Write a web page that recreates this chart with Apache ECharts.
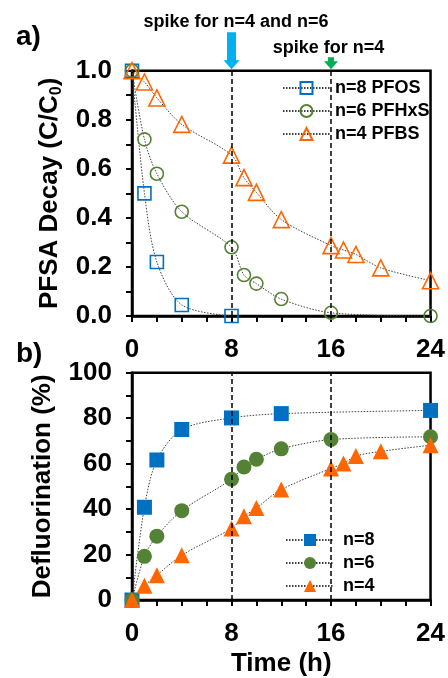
<!DOCTYPE html>
<html><head><meta charset="utf-8">
<script src="https://cdn.jsdelivr.net/npm/echarts@6/dist/echarts.min.js"></script>
<style>html,body{margin:0;padding:0;background:#fff}#c{width:448px;height:678px}</style>
</head><body><div id="c"></div><script>
// ---- data (panel a: PFSA decay C/C0) ----
const timeA8 = [0, 1, 2, 4, 8];
const decay8 = [1.0, 0.50, 0.22, 0.045, 0];
const timeA6 = [0, 1, 2, 4, 8, 9, 10, 12, 16, 24];
const decay6 = [1.0, 0.72, 0.58, 0.425, 0.28, 0.167, 0.132, 0.069, 0.013, 0];
const timeA4 = [0, 1, 2, 4, 8, 9, 10, 12, 16, 17, 18, 20, 24];
const decay4 = [1.0, 0.954, 0.889, 0.781, 0.656, 0.564, 0.504, 0.393, 0.287, 0.269, 0.251, 0.196, 0.144];
// ---- data (panel b: defluorination %) ----
const timeB8 = [0, 1, 2, 4, 8, 12, 24];
const defl8 = [0, 40.8, 61.6, 75.0, 80.1, 82.0, 83.4];
const timeB6 = [0, 1, 2, 4, 8, 9, 10, 12, 16, 24];
const defl6 = [0, 19.2, 28.1, 39.3, 53.1, 58.5, 61.9, 66.5, 70.6, 71.8];
const timeB4 = [0, 1, 2, 4, 8, 9, 10, 12, 16, 17, 18, 20, 24];
const defl4 = [0, 6.3, 10.9, 19.7, 31.5, 36.8, 40.5, 48.6, 57.9, 60.1, 63.3, 65.4, 68.1];
const namesA = ['n=8 PFOS', 'n=6 PFHxS', 'n=4 PFBS'];
const namesB = ['n=8', 'n=6', 'n=4'];
const spikeTimes = [8, 16];
const spikeLabels = ['spike for n=4 and n=6', 'spike for n=4'];
const xLabelTimes = [0, 8, 16, 24];

const FONT = "'Liberation Sans', Arial, sans-serif";
const BLUE = '#0070C0', GREEN = '#548235', ORANGE = '#FF6600';
const zip = (xs, ys) => xs.map((x, i) => [x, ys[i]]);

const chart = echarts.init(document.getElementById('c'), null, {renderer: 'canvas'});

function xAxis(grid, name) {
  return {
    type: 'value', gridIndex: grid, min: 0, max: 24, interval: 2,
    name: name || '', nameLocation: 'middle', nameGap: 51,
    nameTextStyle: {fontFamily: FONT, fontWeight: 'bold', fontSize: 26, color: '#000'},
    axisLine: {onZero: false, lineStyle: {color: '#000', width: 2.5}},
    axisTick: {inside: false, length: 6, lineStyle: {color: '#000', width: 2}},
    axisLabel: {margin: 21, fontFamily: FONT, fontWeight: 'bold', fontSize: 26, color: '#000',
      formatter: v => xLabelTimes.includes(v) ? String(v) : ''},
    splitLine: {show: false}
  };
}
function yAxis(grid, max, interval, fmt, name, rich) {
  return {
    type: 'value', gridIndex: grid, min: 0, max: max, interval: interval,
    name: name, nameLocation: 'middle', nameGap: 67, nameRotate: 90,
    nameTextStyle: {fontFamily: FONT, fontWeight: 'bold', fontSize: 26, color: '#000', lineHeight: 30, rich: rich},
    axisLine: {onZero: false, lineStyle: {color: '#000', width: 2.5}},
    axisTick: {inside: false, length: 6, lineStyle: {color: '#000', width: 2}},
    minorTick: {show: true, splitNumber: 2, length: 6, lineStyle: {color: '#000', width: 2}},
    axisLabel: {margin: 20, fontFamily: FONT, fontWeight: 'bold', fontSize: 26, color: '#000', formatter: fmt},
    splitLine: {show: false}, minorSplitLine: {show: false}
  };
}
const lineSt = {color: '#404040', width: 1, type: [1.5, 1.5]};
const markLines = {
  silent: true, symbol: ['none', 'none'], label: {show: false},
  lineStyle: {color: '#000', width: 1.5, type: [5, 3]},
  data: spikeTimes.map(t => ({xAxis: t}))
};
function ser(name, grid, data, symbol, size, color, open, ml) {
  const s = {
    name: name, type: 'line', xAxisIndex: grid, yAxisIndex: grid, data: data,
    smooth: 0.3, symbol: symbol, symbolSize: size, showAllSymbol: true,
    lineStyle: lineSt,
    itemStyle: open ? {color: 'rgba(255,255,255,0)', borderColor: color, borderWidth: 1.6}
                    : {color: color, borderColor: color, borderWidth: 0},
    emphasis: {disabled: true}, animation: false
  };
  if (ml) s.markLine = markLines;
  return s;
}
const legendBase = {
  orient: 'vertical', itemHeight: 15, itemGap: 5, selectedMode: false, padding: 0,
  textStyle: {fontFamily: FONT, fontWeight: 'bold', fontSize: 18, color: '#000', lineHeight: 18}
};

chart.setOption({
  animation: false,
  backgroundColor: '#fff',
  grid: [
    {left: 132, right: 14, top: 70.7, height: 245.3, show: true, borderColor: '#000', borderWidth: 2.5, backgroundColor: 'transparent'},
    {left: 132, right: 14, top: 372.7, height: 229, show: true, borderColor: '#000', borderWidth: 2.5, backgroundColor: 'transparent'}
  ],
  xAxis: [xAxis(0), xAxis(1, 'Time (h)')],
  yAxis: [
    yAxis(0, 1, 0.2, v => v.toFixed(1), 'PFSA Decay (C/C{sub|0})',
      {sub: {fontFamily: FONT, fontWeight: 'bold', fontSize: 16, lineHeight: 14, verticalAlign: 'bottom', color: '#000'}}),
    yAxis(1, 100, 20, v => String(v), 'Defluorination (%)')
  ],
  legend: [
    Object.assign({}, legendBase, {left: 282, top: 79, itemWidth: 47, data: namesA}),
    Object.assign({}, legendBase, {left: 285, top: 531, itemWidth: 48, itemGap: 5, data: namesB,
      textStyle: Object.assign({}, legendBase.textStyle, {padding: [0, 0, 0, 4]})})
  ],
  series: [
    ser(namesA[0], 0, zip(timeA8, decay8), 'rect', 13, BLUE, true, true),
    ser(namesA[1], 0, zip(timeA6, decay6), 'circle', 13, GREEN, true, false),
    ser(namesA[2], 0, zip(timeA4, decay4), 'triangle', 16, ORANGE, true, false),
    ser(namesB[0], 1, zip(timeB8, defl8), 'rect', 15, BLUE, false, true),
    ser(namesB[1], 1, zip(timeB6, defl6), 'circle', 15, GREEN, false, false),
    ser(namesB[2], 1, zip(timeB4, defl4), 'triangle', 16, ORANGE, false, false)
  ]
});

// annotations: arrows and spike labels positioned from the axis scale
const pA = chart.convertToPixel({gridIndex: 0}, [spikeTimes[0], 1]);
const pB = chart.convertToPixel({gridIndex: 0}, [spikeTimes[1], 1]);
function arrow(p, shaftHalf, shaftLen, headHalf, headLen, color) {
  const x = p[0], tip = p[1] - 1.5;
  return {type: 'polygon', z: 100, shape: {points: [
    [x - shaftHalf, tip - headLen - shaftLen], [x + shaftHalf, tip - headLen - shaftLen],
    [x + shaftHalf, tip - headLen], [x + headHalf, tip - headLen], [x, tip],
    [x - headHalf, tip - headLen], [x - shaftHalf, tip - headLen]]}, style: {fill: color}};
}
const txt = (text, x, y, size, align) => ({type: 'text', z: 100, x: x, y: y,
  style: {text: text, fontFamily: FONT, fontWeight: 'bold', fontSize: size, fill: '#000', align: align || 'center', verticalAlign: 'middle'}});
chart.setOption({graphic: [
  arrow(pA, 4.5, 28, 8, 9, '#00B0F0'),
  arrow(pB, 3, 4, 7, 8, '#00B050'),
  txt(spikeLabels[0], pA[0] + 4.5, 22, 18),
  txt(spikeLabels[1], pB[0] - 2.5, 48, 18),
  txt('a)', 16, 37, 28, 'left'),
  txt('b)', 16, 354, 28, 'left')
]});
</script></body></html>
